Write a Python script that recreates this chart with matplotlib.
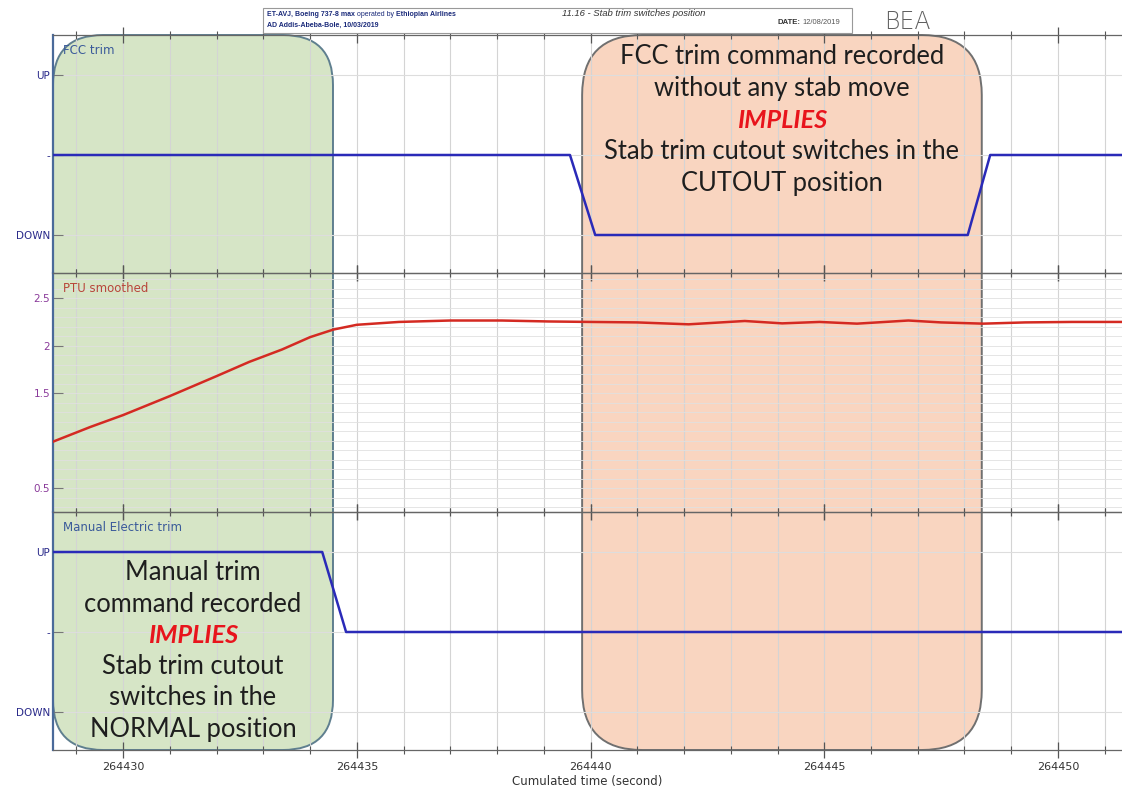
import numpy as np
import matplotlib
matplotlib.use('Agg')
import matplotlib.pyplot as plt
from matplotlib.patches import FancyBboxPatch, Rectangle
from matplotlib.transforms import IdentityTransform
from matplotlib.ticker import MultipleLocator, FixedLocator

# time range of the recording (cumulated seconds)
t_start = 264428.5
t_end = 264451.37

# FCC trim command (1 = UP, 0 = neutral, -1 = DOWN)
fcc_t = [264428.5, 264439.56, 264440.1, 264448.07, 264448.55, 264451.4]
fcc_v = [0, 0, -1, -1, 0, 0]

# Manual electric trim command
man_t = [264428.5, 264434.26, 264434.77, 264451.4]
man_v = [1, 1, 0, 0]

# PTU smoothed (stab position)
ptu_t = [264428.5, 264429.3, 264430.0, 264431.0, 264432.0, 264432.7, 264433.4,
         264434.0, 264434.5, 264435.0, 264435.9, 264437.0, 264438.1, 264439.1,
         264440.0, 264441.0, 264442.1, 264443.3, 264444.1, 264444.9, 264445.7,
         264446.8, 264447.5, 264448.4, 264449.3, 264450.3, 264451.4]
ptu_v = [0.99, 1.145, 1.27, 1.47, 1.68, 1.83, 1.96,
         2.09, 2.17, 2.22, 2.25, 2.265, 2.265, 2.255,
         2.25, 2.245, 2.225, 2.26, 2.235, 2.25, 2.232,
         2.265, 2.245, 2.232, 2.245, 2.25, 2.25]

# highlighted time windows
green_win = (264428.5, 264434.49)
orange_win = (264439.82, 264448.37)

green_text = ["Manual trim", "command recorded", "IMPLIES",
              "Stab trim cutout", "switches in the", "NORMAL position"]
orange_text = ["FCC trim command recorded", "without any stab move", "IMPLIES",
               "Stab trim cutout switches in the", "CUTOUT position"]

W, H = 1122, 787
fig = plt.figure(figsize=(W / 100, H / 100), dpi=100)

left = 53 / W
width = 1 - left
panels = [(35, 273), (273, 512), (512, 750)]
axes = []
for top, bot in panels:
    ax = fig.add_axes([left, 1 - bot / H, width, (bot - top) / H])
    ax.set_facecolor('none')
    axes.append(ax)
ax1, ax2, ax3 = axes

blue = '#2a2ab8'
for ax in axes:
    ax.set_xlim(t_start, t_end)
    ax.xaxis.set_major_locator(MultipleLocator(5))
    ax.xaxis.set_minor_locator(MultipleLocator(1))
    ax.grid(True, which='both', axis='x', color='#d4d4d4', lw=0.8)
    ax.tick_params(axis='x', which='major', direction='inout', length=11, width=0.9,
                   top=True, bottom=True, color='#555555')
    ax.tick_params(axis='x', which='minor', direction='inout', length=6, width=0.8,
                   top=True, bottom=True, color='#555555')
    ax.tick_params(axis='y', direction='in', length=7, width=0.8, color='#777777',
                   labelsize=7.5, pad=2)
    for s in ax.spines.values():
        s.set_color('#666666')
        s.set_linewidth(0.9)
    ax.spines['right'].set_visible(False)
    ax.spines['left'].set_color('#4a6a9a')
    ax.spines['left'].set_linewidth(1.6)
    if ax is not ax3:
        ax.tick_params(axis='x', labelbottom=False)

# FCC trim
ax1.plot(fcc_t, fcc_v, color=blue, lw=1.8, zorder=3)
ax1.set_ylim(-1.475, 1.5)
ax1.set_yticks([1, 0, -1])
ax1.set_yticklabels(['UP', '-', 'DOWN'], color='#2a2a8a')
ax1.grid(True, axis='y', color='#dddddd', lw=0.8)

# PTU smoothed
ax2.plot(ptu_t, ptu_v, color='#d42a22', lw=1.8, zorder=3)
ax2.set_ylim(0.25, 2.765)
ax2.yaxis.set_major_locator(FixedLocator([0.5, 1.5, 2, 2.5]))
ax2.yaxis.set_major_formatter(plt.FixedFormatter(['0.5', '1.5', '2', '2.5']))
ax2.yaxis.set_minor_locator(MultipleLocator(0.1))
ax2.tick_params(axis='y', which='minor', length=0)
ax2.tick_params(axis='y', labelcolor='#8a3a9a')
ax2.grid(True, which='both', axis='y', color='#e0e0e0', lw=0.6)

# Manual electric trim
ax3.plot(man_t, man_v, color=blue, lw=1.8, zorder=3)
ax3.set_ylim(-1.475, 1.5)
ax3.set_yticks([1, 0, -1])
ax3.set_yticklabels(['UP', '-', 'DOWN'], color='#2a2a8a')
ax3.grid(True, axis='y', color='#dddddd', lw=0.8)
ax3.tick_params(axis='x', labelsize=8, labelcolor='#333333', pad=3)
ax3.xaxis.set_major_formatter(plt.FuncFormatter(lambda v, p: '%d' % round(v)))
ax3.set_xlabel('Cumulated time (second)', fontsize=8.5, color='#333333', labelpad=2)

# panel titles
ax1.text(0.009, 0.92, 'FCC trim', transform=ax1.transAxes, fontsize=8.5, color='#3a5a9a')
ax2.text(0.009, 0.92, 'PTU smoothed', transform=ax2.transAxes, fontsize=8.5, color='#b8453a')
ax3.text(0.009, 0.92, 'Manual Electric trim', transform=ax3.transAxes, fontsize=8.5, color='#3a5a9a')

# rounded highlight boxes (pixel space, behind the transparent axes)
y_top = ax1.transAxes.transform((0, 1))[1]
y_bot = ax3.transAxes.transform((0, 0))[1]


def add_box(win, face, edge, radius):
    x0 = ax1.transData.transform((win[0], 0))[0]
    x1 = ax1.transData.transform((win[1], 0))[0]
    box = FancyBboxPatch((x0, y_bot), x1 - x0, y_top - y_bot,
                         boxstyle='round,pad=0,rounding_size=%d' % radius,
                         transform=IdentityTransform(), facecolor=face,
                         edgecolor=edge, lw=1.4, zorder=-1)
    fig.add_artist(box)
    return (x0 + x1) / 2


gx = add_box(green_win, '#d6e5c6', '#5f7f8f', 50)
ox = add_box(orange_win, '#f9d5c0', '#707070', 60)

font = ['Lato', 'DejaVu Sans']


def box_text(xc, lines, y0, step):
    for i, line in enumerate(lines):
        y = (H - (y0 + i * step)) / H
        if line == 'IMPLIES':
            fig.text(xc / W, y, line, ha='center', va='center', fontsize=18.3,
                     color='#e8141c', weight='bold', style='italic', family=font, zorder=10)
        else:
            fig.text(xc / W, y, line, ha='center', va='center', fontsize=18.4,
                     color='#1e1e1e', family=font, zorder=10)


box_text(gx, green_text, 573, 31.2)
box_text(ox, orange_text, 57, 31.5)

# header block
fig.add_artist(Rectangle((263 / W, 1 - 33 / H), (852 - 263) / W, 25 / H,
                         transform=fig.transFigure, facecolor='white',
                         edgecolor='#999999', lw=0.8))
hc = '#1a2a7a'
hfont = ['Liberation Sans', 'DejaVu Sans']
renderer = fig.canvas.get_renderer()


def chain(x, y, parts, size):
    # place text pieces one after another on the same line
    for txt, kw in parts:
        kw = dict(kw)
        kw.setdefault('fontsize', size)
        t = fig.text(x / W, 1 - y / H, txt, va='center', family=hfont, **kw)
        x = t.get_window_extent(renderer).x1 + 2


chain(267, 14, [('ET-AVJ, Boeing 737-8 max', dict(weight='bold', color=hc)),
                ('operated by', dict(color=hc)),
                ('Ethiopian Airlines', dict(weight='bold', color=hc))], 5.0)
chain(267, 25, [('AD Addis-Abeba-Bole, 10/03/2019', dict(weight='bold', color=hc))], 5.0)
fig.text(562 / W, 1 - 14 / H, '11.16 - Stab trim switches position', fontsize=6.8,
         style='italic', color='#333333', va='center', family=hfont)
chain(777, 22, [('DATE:', dict(weight='bold', color='#333333')),
                ('12/08/2019', dict(color='#555555', fontsize=5.4))], 5.6)
fig.text(884 / W, 1 - 22 / H, 'BEA', fontsize=17, color='#606060', va='center',
         weight='light')

fig.savefig('out.png', dpi=100)
